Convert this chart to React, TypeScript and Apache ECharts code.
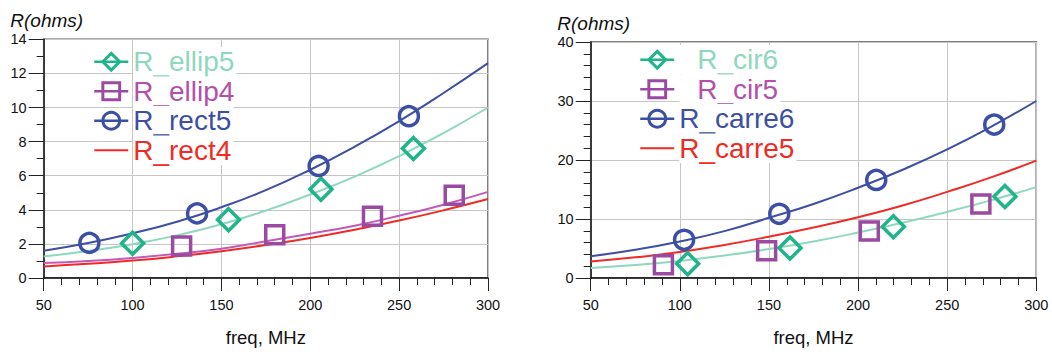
import React, { useEffect, useRef } from 'react';
import * as echarts from 'echarts';

// ---------- data ----------
const freqCurve = [50, 75, 100, 125, 150, 175, 200, 225, 250, 275, 300];

// left panel (fitted curves)
const rect5Curve = [1.6, 2.05, 2.62, 3.3, 4.15, 5.15, 6.35, 7.7, 9.2, 10.85, 12.6];
const ellip5Curve = [1.26, 1.58, 1.98, 2.5, 3.15, 3.95, 4.9, 5.95, 7.15, 8.5, 10.0];
const ellip4Curve = [0.88, 1.0, 1.18, 1.42, 1.72, 2.15, 2.6, 3.07, 3.65, 4.3, 5.05];
const rect4Curve = [0.68, 0.83, 1.02, 1.27, 1.57, 1.93, 2.35, 2.83, 3.37, 3.97, 4.63];

// left panel (measured points)
const ellip5X = [100, 154, 206, 258];
const ellip5Y = [2.04, 3.42, 5.21, 7.6];
const ellip4X = [127.6, 180, 235, 281];
const ellip4Y = [1.87, 2.53, 3.62, 4.86];
const rect5X = [75.7, 136.3, 204.7, 255.5];
const rect5Y = [2.06, 3.79, 6.57, 9.49];

// right panel (fitted curves)
const carre6Curve = [3.7, 4.8, 6.2, 7.95, 10.2, 12.55, 15.3, 18.35, 21.8, 25.7, 30.0];
const carre5Curve = [2.8, 3.5, 4.4, 5.6, 7.0, 8.55, 10.3, 12.3, 14.6, 17.1, 19.9];
const cir6Curve = [1.7, 2.2, 2.9, 3.8, 4.9, 6.2, 7.7, 9.35, 11.2, 13.2, 15.4];

// right panel (measured points)
const cir6X = [104.4, 161.8, 219.8, 282.4];
const cir6Y = [2.4, 5.08, 8.7, 13.8];
const cir5X = [90.8, 148.7, 206.3, 268.9];
const cir5Y = [2.23, 4.63, 7.98, 12.55];
const carre6X = [102.4, 155.8, 210.2, 276.4];
const carre6Y = [6.47, 10.88, 16.62, 26.0];

// ---------- styles ----------
const FONT = 'Liberation Sans, Arial, sans-serif';
const TEAL_L = '#8ed8bd';
const TEAL_D = '#1fb48a';
const MAG_L = '#c25ab9';
const MAG_T = '#b450ab';
const PURPLE = '#9b4aa2';
const BLUE = '#3c4fa5';
const RED = '#ee2b25';

const zip = (xs: number[], ys: number[]) => xs.map((x, i) => [x, ys[i]]);

function xAxisFor(gridIndex: number) {
  return {
    type: 'value',
    gridIndex,
    min: 50,
    max: 300,
    interval: 50,
    name: 'freq, MHz',
    nameLocation: 'middle',
    nameGap: 50,
    nameTextStyle: { fontSize: 18.5, color: '#111', fontFamily: FONT },
    axisLine: { show: true, onZero: false, lineStyle: { color: '#111', width: 1.5 } },
    axisTick: { show: true, length: 13, lineStyle: { color: '#222', width: 1 } },
    minorTick: { show: true, splitNumber: 5, length: 7, lineStyle: { color: '#222', width: 1 } },
    splitLine: { show: true, lineStyle: { color: '#c6c6c6', width: 1 } },
    axisLabel: { margin: 19, fontSize: 14.5, color: '#111', fontFamily: FONT },
  };
}

function yAxisFor(gridIndex: number, max: number, interval: number, minorSplit: number) {
  return {
    type: 'value',
    gridIndex,
    min: 0,
    max,
    interval,
    name: 'R(ohms)',
    nameLocation: 'end',
    nameGap: 9,
    nameTextStyle: { fontSize: 19, fontStyle: 'italic', color: '#111', fontFamily: FONT, padding: [0, 0, 0, 6] },
    axisLine: { show: true, onZero: false, lineStyle: { color: '#111', width: 1.5 } },
    axisTick: { show: true, length: 15, lineStyle: { color: '#222', width: 1 } },
    minorTick: { show: true, splitNumber: minorSplit, length: 7, lineStyle: { color: '#222', width: 1 } },
    splitLine: { show: true, lineStyle: { color: '#c6c6c6', width: 1 } },
    axisLabel: { margin: 17, fontSize: 14.5, color: '#111', fontFamily: FONT },
  };
}

function curve(name: string, grid: number, ys: number[], color: string, symbol: string) {
  return {
    type: 'line',
    name,
    xAxisIndex: grid,
    yAxisIndex: grid,
    data: zip(freqCurve, ys),
    smooth: true,
    symbol,
    showSymbol: false,
    lineStyle: { color, width: 2 },
    itemStyle: { color },
    z: 2,
  };
}

function markers(name: string, grid: number, xs: number[], ys: number[], color: string, symbol: string, size: number) {
  return {
    type: 'scatter',
    name,
    xAxisIndex: grid,
    yAxisIndex: grid,
    data: zip(xs, ys),
    symbol,
    symbolSize: size,
    itemStyle: { color: 'rgba(0,0,0,0)', borderColor: color, borderWidth: 3.5, opacity: 1 },
    z: 3,
  };
}

function legendItem(name: string, markColor: string, textColor: string, padLeft = 0) {
  return {
    name,
    itemStyle: { color: 'rgba(0,0,0,0)', borderColor: markColor, borderWidth: 3, opacity: 1 },
    lineStyle: { color: markColor, width: 2.5 },
    textStyle: { color: textColor, padding: [0, 2, 0, padLeft] },
  };
}

function lineLegendItem(name: string, color: string) {
  return {
    name,
    icon: 'path://M0,0H34V2.2H0Z',
    itemStyle: { color, borderWidth: 0 },
    textStyle: { color, padding: [0, 2, 0, 0] },
  };
}

const legendBase = {
  orient: 'vertical',
  itemWidth: 34,
  itemHeight: 21,
  itemGap: 0,
  padding: 0,
  selectedMode: false,
  textStyle: { fontSize: 28, lineHeight: 29.5, fontFamily: FONT, backgroundColor: '#fff' },
};

export default function App() {
  const ref = useRef<HTMLDivElement>(null);
  useEffect(() => {
    const chart = echarts.init(ref.current!, null, { renderer: 'svg' });
    const option = {
      animation: false,
      backgroundColor: '#fff',
      textStyle: { fontFamily: FONT },
      grid: [
        { left: 43.7, top: 39.3, width: 444.3, height: 240, show: true, borderColor: '#555', borderWidth: 1.5, backgroundColor: 'transparent' },
        { left: 590.7, top: 42, width: 445.6, height: 239, show: true, borderColor: '#555', borderWidth: 1.5, backgroundColor: 'transparent' },
      ],
      xAxis: [xAxisFor(0), xAxisFor(1)],
      yAxis: [yAxisFor(0, 14, 2, 2), yAxisFor(1, 40, 10, 5)],
      legend: [
        {
          ...legendBase,
          left: 93,
          top: 47,
          data: [
            legendItem('R_ellip5', TEAL_D, TEAL_L),
            legendItem('R_ellip4', PURPLE, MAG_T),
            legendItem('R_rect5', BLUE, BLUE),
            lineLegendItem('R_rect4', RED),
          ],
        },
        {
          ...legendBase,
          left: 639,
          top: 45,
          data: [
            legendItem('R_cir6', TEAL_D, TEAL_L, 18),
            legendItem('R_cir5', PURPLE, MAG_T, 18),
            legendItem('R_carre6', BLUE, BLUE),
            lineLegendItem('R_carre5', RED),
          ],
        },
      ],
      series: [
        curve('R_ellip5', 0, ellip5Curve, TEAL_L, 'diamond'),
        curve('R_ellip4', 0, ellip4Curve, MAG_L, 'rect'),
        curve('R_rect5', 0, rect5Curve, BLUE, 'circle'),
        curve('R_rect4', 0, rect4Curve, RED, 'none'),
        markers('R_ellip5', 0, ellip5X, ellip5Y, TEAL_D, 'diamond', 22),
        markers('R_ellip4', 0, ellip4X, ellip4Y, PURPLE, 'rect', 18),
        markers('R_rect5', 0, rect5X, rect5Y, BLUE, 'circle', 19),

        curve('R_cir6', 1, cir6Curve, TEAL_L, 'diamond'),
        curve('R_carre6', 1, carre6Curve, BLUE, 'circle'),
        curve('R_carre5', 1, carre5Curve, RED, 'none'),
        curve('R_cir5', 1, [], MAG_L, 'rect'),
        markers('R_cir6', 1, cir6X, cir6Y, TEAL_D, 'diamond', 22),
        markers('R_cir5', 1, cir5X, cir5Y, PURPLE, 'rect', 18),
        markers('R_carre6', 1, carre6X, carre6Y, BLUE, 'circle', 19),
      ],
    };
    chart.setOption(option as any);
    return () => chart.dispose();
  }, []);
  return <div ref={ref} style={{ position: 'absolute', left: 0, top: 0, width: 1052, height: 352 }} />;
}
